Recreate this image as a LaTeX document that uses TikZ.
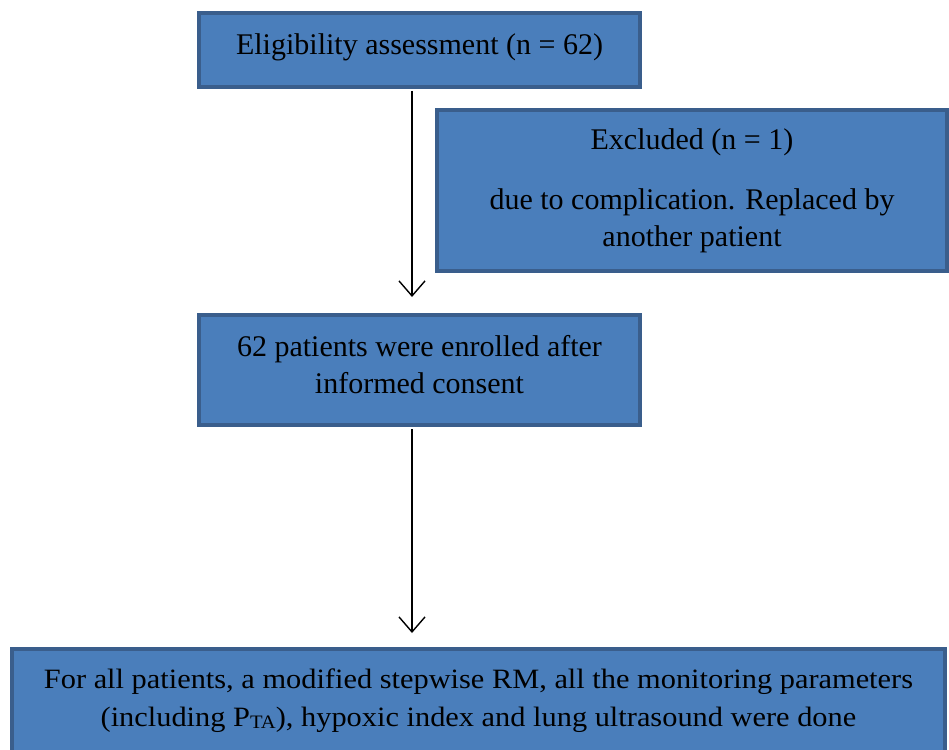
\documentclass[tikz,border=0pt]{standalone}
\usepackage{fontspec}
\setmainfont{Liberation Serif}
\newfontfamily\widefont[FakeStretch=1.085]{Liberation Serif}
\usetikzlibrary{arrows.meta}

\definecolor{boxfill}{HTML}{4A7EBB}
\definecolor{boxline}{HTML}{3A5E8C}

\tikzset{
    flowbox/.style={draw=boxline, fill=boxfill, line width=4pt, align=center,
        inner sep=0pt, font=\fontsize{30}{37}\selectfont},
    flowarrow/.style={line width=1.4pt, ->}
}

\begin{document}
\begin{tikzpicture}[x=1pt, y=1pt, >={Straight Barb[length=15pt, width=26pt]}]
    \useasboundingbox (0, 0) rectangle (949, -749);
    \node[flowbox, minimum width=441pt, minimum height=74pt, text depth=11pt] (assess) at (419.5, -50) {Eligibility assessment (n = 62)};
    \node[flowbox, minimum width=510pt, minimum height=161pt] (excluded) at (692, -190.5) {Excluded (n = 1)\\[23pt]due to complication. Replaced by\\another patient};
    \node[flowbox, minimum width=441pt, minimum height=110pt, text depth=11pt] (enrolled) at (419.5, -370) {62 patients were enrolled after\\informed consent};
    \node[flowbox, minimum width=933pt, minimum height=131pt, text depth=33pt,
        font=\widefont\fontsize{28}{38}\selectfont] (done) at (478.5, -714.5)
        {For all patients, a modified stepwise RM, all the monitoring parameters\\(including P\raisebox{-2pt}{\fontsize{19}{19}\selectfont TA}), hypoxic index and lung ultrasound were done};
    \draw[flowarrow, shorten <=2pt, shorten >=16pt] ([xshift=-7.5pt]assess.south) -- ([xshift=-7.5pt]enrolled.north);
    \draw[flowarrow, shorten <=2pt, shorten >=14pt] ([xshift=-7.5pt]enrolled.south) -- ([xshift=-7.5pt]done.north -| enrolled.south);
\end{tikzpicture}
\end{document}
